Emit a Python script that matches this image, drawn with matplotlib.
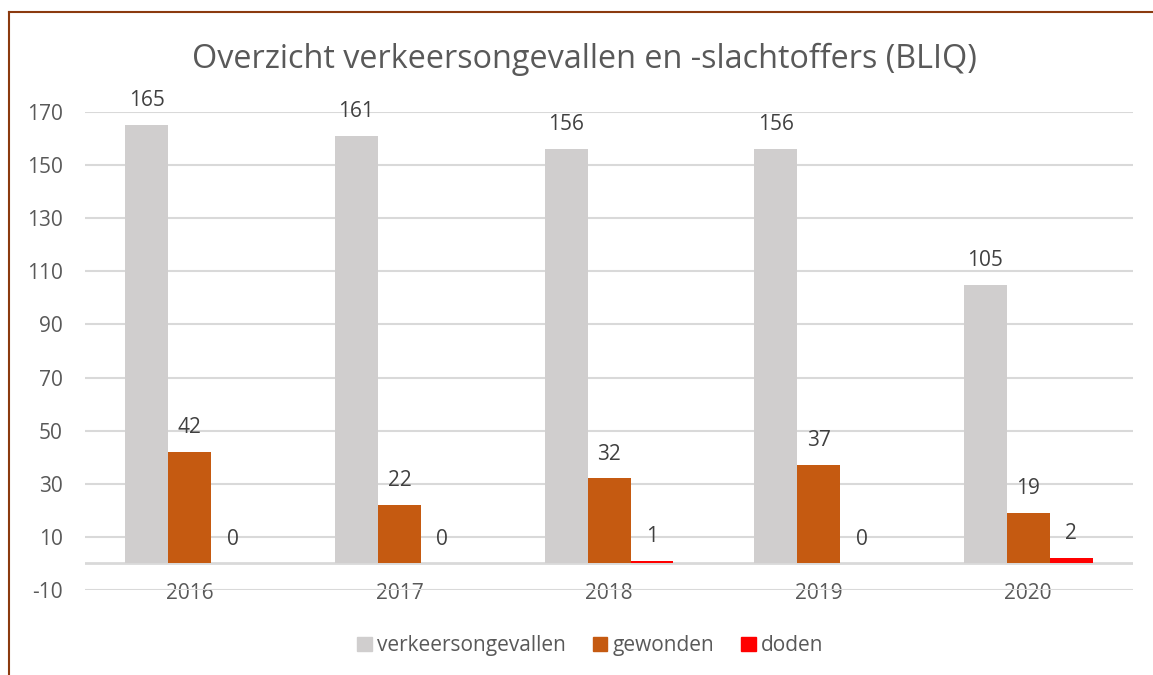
import matplotlib.pyplot as plt
import numpy as np
from matplotlib.lines import Line2D

years = ["2016", "2017", "2018", "2019", "2020"]
ongevallen = [165, 161, 156, 156, 105]
gewonden = [42, 22, 32, 37, 19]
doden = [0, 0, 1, 0, 2]

series_names = ["verkeersongevallen", "gewonden", "doden"]
colors = ["#D0CECE", "#C55A11", "#FF0000"]
text_color = "#595959"

plt.rcParams['font.family'] = ['Open Sans', 'DejaVu Sans']
plt.rcParams['axes.unicode_minus'] = False

fig = plt.figure(figsize=(11.53, 6.75), dpi=100)
ax = fig.add_axes([0.0737, 0.126, 0.909, 0.708])

x = np.arange(len(years))
width = 0.205
for i, (vals, col) in enumerate(zip([ongevallen, gewonden, doden], colors)):
    pos = x + (i - 1) * width
    bars = ax.bar(pos, vals, width=width, color=col, label=series_names[i], zorder=3)
    for b, v in zip(bars, vals):
        ax.annotate(str(v), (b.get_x() + b.get_width() / 2, v), xytext=(0, 10),
                    textcoords="offset points", ha="center", va="bottom",
                    fontsize=15, color="#404040", zorder=4)

ax.set_xlim(-0.5, len(years) - 0.5)
ax.set_ylim(-10, 170)
ax.set_yticks(np.arange(-10, 171, 20))
ax.yaxis.grid(True, color="#D9D9D9", linewidth=1.5, zorder=0)
ax.axhline(0, color="#D9D9D9", linewidth=2, zorder=2)
ax.set_xticks(x)
ax.set_xticklabels(years)
ax.tick_params(axis="both", length=0, labelsize=15, labelcolor=text_color)
ax.tick_params(axis="x", pad=-5)
ax.tick_params(axis="y", pad=16)
for s in ax.spines.values():
    s.set_visible(False)

fig.text(0.507, 0.912, "Overzicht verkeersongevallen en -slachtoffers (BLIQ)",
         ha="center", va="center", fontsize=23.3, color=text_color)

handles = [plt.Rectangle((0, 0), 1, 1, color=c) for c in colors]
fig.legend(handles, series_names, loc="center", bbox_to_anchor=(0.512, 0.043),
           ncol=3, frameon=False, fontsize=15, labelcolor=text_color,
           handlelength=0.7, handleheight=0.7, handletextpad=0.25, columnspacing=1.3)

# brown frame (top and left edges visible)
fig.add_artist(Line2D([0.0078, 1.0], [0.982, 0.982], color="#8B3A0F", linewidth=1.5,
                      transform=fig.transFigure))
fig.add_artist(Line2D([0.0078, 0.0078], [0.0, 0.982], color="#8B3A0F", linewidth=1.5,
                      transform=fig.transFigure))

fig.savefig("out.png", dpi=100)
